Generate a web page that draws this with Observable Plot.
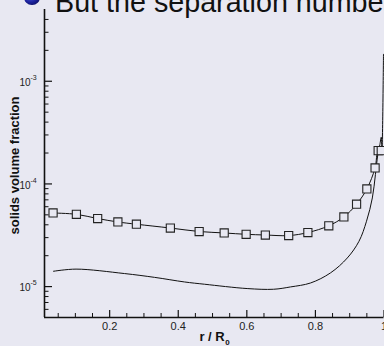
<!DOCTYPE html>
<html><head><meta charset="utf-8">
<script src="https://cdn.jsdelivr.net/npm/d3@7"></script>
<script src="https://cdn.jsdelivr.net/npm/@observablehq/plot@0.6"></script>
<style>
html,body{margin:0;padding:0;background:#e8e8f2;overflow:hidden}
#wrap{position:relative;width:384px;height:346px;overflow:hidden}
#chart svg{display:block}
#title{position:absolute;left:24px;top:-11.7px;font:28.7px "Liberation Sans",Arial,sans-serif;line-height:28px;white-space:nowrap;color:#111}
#bullet{display:inline-block;width:15.5px;height:15.5px;margin-right:15.5px;vertical-align:7.6px;border-radius:50%;background:radial-gradient(circle at 40% 35%,#6070ee,#1b219c 55%,#07073c)}
</style></head><body>
<div id="wrap"><div id="chart"></div><div id="title"><span id="bullet"></span>But the separation number</div></div>
<script>
// upper series (with square markers)
const rSquares = [0.035,0.103,0.165,0.224,0.278,0.377,0.461,0.534,0.598,0.654,0.722,0.778,0.839,0.883,0.920,0.950,0.974,0.983,0.992];
const phiSquares = [5.21e-5,5.06e-5,4.60e-5,4.26e-5,4.05e-5,3.72e-5,3.44e-5,3.33e-5,3.23e-5,3.18e-5,3.14e-5,3.36e-5,3.91e-5,4.77e-5,6.34e-5,8.93e-5,1.43e-4,2.11e-4,2.11e-4];
// lower series (line only)
const rLower = [0.036,0.102,0.243,0.331,0.418,0.477,0.601,0.678,0.727,0.786,0.844,0.893,0.927,0.949,0.966,0.975,0.982,0.988,0.992,0.994,0.9985];
const phiLower = [1.41e-5,1.48e-5,1.34e-5,1.23e-5,1.11e-5,1.054e-5,9.57e-6,9.42e-6,9.92e-6,1.085e-5,1.36e-5,1.90e-5,2.76e-5,4.33e-5,7.30e-5,1.234e-4,1.93e-4,2.42e-4,2.85e-4,2.08e-4,1.83e-3];
// ticks
const xMajor = [0.2,0.4,0.6,0.8,1];
const xLabels = ["0.2","0.4","0.6","0.8","1"];
const xMinor = [0.05,0.1,0.15,0.25,0.3,0.35,0.45,0.5,0.55,0.65,0.7,0.75,0.85,0.9,0.95];
const yMajor = [1e-5,1e-4,1e-3];
const yExp = ["-5","-4","-3"];
const yMinor = [6e-6,7e-6,8e-6,9e-6,2e-5,3e-5,4e-5,5e-5,6e-5,7e-5,8e-5,9e-5,2e-4,3e-4,4e-4,5e-4,6e-4,7e-4,8e-4,9e-4,2e-3,3e-3,4e-3];

const W = 384, Hh = 346, mT = 9, mB = 29, mL = 44, mR = 0.5;
const pw = W - mL - mR, ph = Hh - mT - mB;
const upper = rSquares.map((r, i) => ({r, v: phiSquares[i]}));
const lower = rLower.map((r, i) => ({r, v: phiLower[i]}));
const bg = "#e8e8f2";

const chart = Plot.plot({
  width: W, height: Hh,
  marginTop: mT, marginBottom: mB, marginLeft: mL, marginRight: mR,
  style: {background: "transparent", fontFamily: "'Liberation Sans', Arial, sans-serif", overflow: "visible"},
  x: {domain: [0.01, 1], axis: null},
  y: {type: "log", domain: [5e-6, 5e-3], axis: null},
  marks: [
    Plot.line(lower, {x: "r", y: "v", curve: "catmull-rom", stroke: "#111", strokeWidth: 1}),
    Plot.line(upper, {x: "r", y: "v", curve: "catmull-rom", stroke: "#111", strokeWidth: 1}),
    Plot.dot(upper, {x: "r", y: "v", symbol: "square", r: 4.6, stroke: "#222", strokeWidth: 1.1, fill: bg}),
    // ticks pointing inward
    Plot.tickX(xMajor, {x: d => d, stroke: "#111", strokeWidth: 1.2, insetTop: ph - 7}),
    Plot.tickX(xMinor, {x: d => d, stroke: "#111", strokeWidth: 1, insetTop: ph - 4}),
    Plot.tickY(yMajor, {y: d => d, stroke: "#111", strokeWidth: 1.2, insetRight: pw - 8}),
    Plot.tickY(yMinor, {y: d => d, stroke: "#111", strokeWidth: 1, insetRight: pw - 4.5}),
    // axis lines
    Plot.ruleX([0.01], {stroke: "#111", strokeWidth: 1.6}),
    Plot.ruleY([5e-6], {stroke: "#111", strokeWidth: 1.6}),
    // tick labels
    Plot.text(xMajor, {x: d => d, text: (d, i) => xLabels[i], frameAnchor: "bottom", lineAnchor: "top", dy: 4.5, fontSize: 11, fill: "#222"}),
    Plot.text(yMajor, {y: d => d, text: () => "10", frameAnchor: "left", textAnchor: "end", dx: -14, dy: 1.4, fontSize: 10, fill: "#222"}),
    Plot.text(yMajor, {y: d => d, text: (d, i) => yExp[i], frameAnchor: "left", textAnchor: "start", dx: -14, dy: -3.5, fontSize: 7, fill: "#222"}),
    // axis titles
    Plot.text(["solids volume fraction"], {frameAnchor: "left", textAnchor: "middle", rotate: -90, dx: -29.3, dy: 2, fontWeight: "bold", fontSize: 13, fill: "#111"}),
    Plot.text(["r / R"], {frameAnchor: "bottom", textAnchor: "end", dx: 10.5, dy: 23.5, fontWeight: "bold", fontSize: 13, fill: "#111"}),
    Plot.text(["0"], {frameAnchor: "bottom", textAnchor: "start", dx: 11, dy: 27, fontWeight: "bold", fontSize: 8, fill: "#111"})
  ]
});
document.getElementById("chart").appendChild(chart);
</script>
</body></html>
